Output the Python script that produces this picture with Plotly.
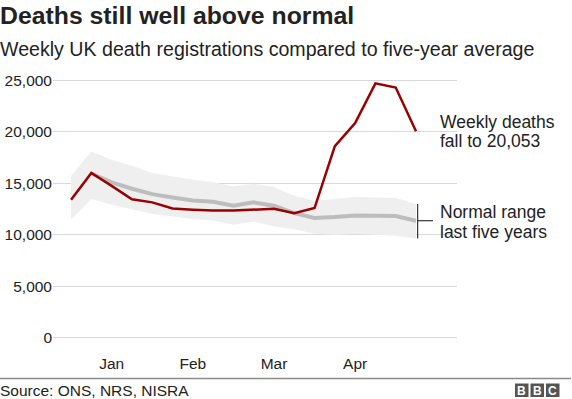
import plotly.graph_objects as go

# ---- data ----
weeks = list(range(1, 19))
deaths_2020 = [13400, 16000, 14750, 13450, 13150, 12550, 12430, 12350, 12350,
               12430, 12530, 12100, 12600, 18600, 20850, 24700, 24300, 20053]
five_year_avg = [None, 15950, 15100, 14470, 13950, 13630, 13340, 13210, 12820,
                 13150, 12820, 12110, 11630, 11720, 11880, 11850, 11820, 11370]
range_upper = [15700, 18080, 17280, 16700, 15990, 15660, 15340, 15110, 14690,
               14950, 14630, 13800, 13300, 13470, 13660, 13630, 13570, 13000]
range_lower = [11460, 13470, 12920, 12500, 12040, 11780, 11530, 11400, 10980,
               11300, 10810, 10550, 10110, 10010, 10080, 10010, 9910, 9650]
month_weeks = [3, 7, 11, 15]
month_labels = ["Jan", "Feb", "Mar", "Apr"]
y_ticks = [0, 5000, 10000, 15000, 20000, 25000]

# ---- geometry ----
W, H = 572, 399
L, R, T, B = 53, 115, 70, 55
PW, PH = W - L - R, H - T - B


def px(xp):
    return (xp - L) / PW


def py(yp):
    return 1 - (yp - T) / PH


FONT = "Liberation Sans, Arial, Helvetica, sans-serif"
TXT = "#222222"
RED = "#990000"

fig = go.Figure()
fig.add_trace(go.Scatter(x=weeks, y=range_lower, mode="lines",
                         line=dict(width=0), hoverinfo="skip", showlegend=False))
fig.add_trace(go.Scatter(x=weeks, y=range_upper, mode="lines",
                         line=dict(width=0), fill="tonexty",
                         fillcolor="#efefef", hoverinfo="skip", showlegend=False))
fig.add_trace(go.Scatter(x=weeks, y=five_year_avg, mode="lines",
                         line=dict(color="#bdbdbd", width=4), showlegend=False))
fig.add_trace(go.Scatter(x=weeks, y=deaths_2020, mode="lines",
                         line=dict(color=RED, width=2.5), showlegend=False))

# white masks so gridlines stop short of the right-hand labels
for y0, y1 in [(112, 150), (205, 242)]:
    fig.add_shape(type="rect", xref="paper", yref="paper", layer="between",
                  x0=px(435), x1=px(460), y0=py(y1), y1=py(y0),
                  fillcolor="white", line=dict(width=0))

# bracket marking the normal range at the last week
last_x = weeks[-1] + 0.08
fig.add_shape(type="line", x0=last_x, x1=last_x, y0=range_lower[-1], y1=range_upper[-1],
              line=dict(color="#333333", width=1.2))
fig.add_shape(type="line", x0=last_x, x1=weeks[-1] + 0.84,
              y0=five_year_avg[-1], y1=five_year_avg[-1],
              line=dict(color="#333333", width=1.2))

annots = []


def txt(text, x, y, size, bold=False, color=TXT, xanchor="left"):
    annots.append(dict(text=f"<b>{text}</b>" if bold else text, xref="paper", yref="paper",
                       x=x, y=y, xanchor=xanchor, yanchor="middle", showarrow=False,
                       borderpad=0,
                       font=dict(family=FONT, size=size, color=color)))


txt("Deaths still well above normal", px(-1), py(15.5), 24.8, bold=True)
txt("Weekly UK death registrations compared to five-year average", px(-1), py(48.5), 19.6)
txt("Weekly deaths", px(439), py(122), 17.5)
txt("fall to 20,053", px(439), py(141), 17.5)
txt("Normal range", px(439), py(212), 17.5)
txt("last five years", px(439), py(231.5), 17.5)
txt("Source: ONS, NRS, NISRA", px(-1), py(390), 15.5)

# BBC logo blocks
for i, letter in enumerate(["B", "B", "C"]):
    x0 = 515 + i * 15.5
    fig.add_shape(type="rect", xref="paper", yref="paper",
                  x0=px(x0), x1=px(x0 + 13.5), y0=py(397), y1=py(383.5),
                  fillcolor="#555555", line=dict(width=0))
    annots.append(dict(text=f"<b>{letter}</b>", xref="paper", yref="paper",
                       x=px(x0 + 6.75), y=py(390.5), xanchor="center", yanchor="middle",
                       showarrow=False, borderpad=0,
                       font=dict(family=FONT, size=12, color="white")))

# separator line above source
fig.add_shape(type="line", xref="paper", yref="paper", x0=px(0), x1=px(571),
              y0=py(378.5), y1=py(378.5), line=dict(color="#8a8a8a", width=1.5))

fig.update_layout(
    width=W, height=H,
    margin=dict(l=L, r=R, t=T, b=B, pad=0, autoexpand=False),
    paper_bgcolor="white", plot_bgcolor="white",
    showlegend=False,
    annotations=annots,
    xaxis=dict(range=[0.11, 20.02], tickvals=month_weeks, ticktext=month_labels,
               showgrid=False, zeroline=False, showline=False, ticks="",
               automargin=False, ticklabelstandoff=8,
               tickfont=dict(family=FONT, size=15.5, color=TXT)),
    yaxis=dict(range=[-600, 26000], tickvals=y_ticks, tickformat=",d",
               showgrid=True, gridcolor="#d9d9d9", gridwidth=1,
               zeroline=False, showline=False, ticks="", automargin=False,
               tickfont=dict(family=FONT, size=15.5, color=TXT)),
)

fig.write_html("out.html",
               config={"displayModeBar": False, "staticPlot": True},
               post_script="document.body.style.margin='0';"
                           "document.body.style.overflow='hidden';")
